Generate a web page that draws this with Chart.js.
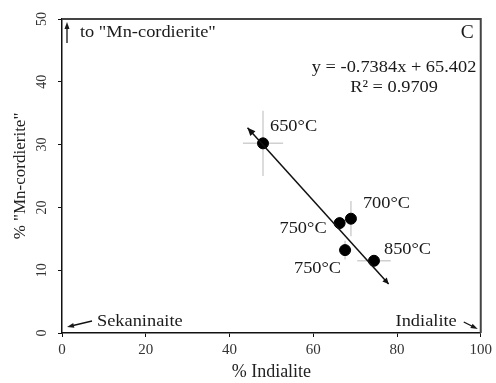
<!DOCTYPE html>
<html>
<head>
<meta charset="utf-8">
<script src="https://cdn.jsdelivr.net/npm/chart.js@4.4.1/dist/chart.umd.min.js"></script>
<style>
  html, body { margin: 0; padding: 0; background: #fff; }
  #wrap { width: 496px; height: 383px; }
</style>
</head>
<body>
<div id="wrap"><canvas id="cordChart"></canvas></div>
<script>
// measured compositions (% indialite, % "Mn-cordierite") and run temperatures
const temperatures = ['650°C', '700°C', '750°C', '750°C', '850°C'];
const indialite = [48.0, 69.0, 66.3, 67.6, 74.5];
const mnCordierite = [30.2, 18.2, 17.5, 13.2, 11.5];
const indialiteErr = [4.8, 0.8, 1.0, 1.5, 4.0];
const mnCordieriteErr = [5.2, 2.8, 1.0, 1.5, 0.8];

// least squares fit, drawn between these x limits
const fitSlope = -0.7384;
const fitIntercept = 65.402;
const fitRange = [44.3, 78.0];

const xTicks = [0, 20, 40, 60, 80, 100];
const yTicks = [0, 10, 20, 30, 40, 50];

const serif = "'Liberation Serif', 'DejaVu Serif', serif";
const textStretch = 1.08;

// label offsets from each point, in pixels: [dx, dy, align]
const labelOffsets = [
    [7, -17, 'left'],
    [12, -15, 'left'],
    [-13, 5, 'right'],
    [-4, 18, 'right'],
    [10, -11, 'left']
];

function arrowHead(ctx, x0, y0, x1, y1, len, half) {
    const a = Math.atan2(y1 - y0, x1 - x0);
    ctx.beginPath();
    ctx.moveTo(x1, y1);
    ctx.lineTo(x1 - len * Math.cos(a) + half * Math.sin(a), y1 - len * Math.sin(a) - half * Math.cos(a));
    ctx.lineTo(x1 - len * Math.cos(a) - half * Math.sin(a), y1 - len * Math.sin(a) + half * Math.cos(a));
    ctx.closePath();
    ctx.fill();
}

// slightly widened text, anchored like fillText
function wideText(ctx, str, x, y) {
    ctx.save();
    ctx.translate(x, y);
    ctx.scale(textStretch, 1);
    ctx.fillText(str, 0, 0);
    ctx.restore();
}

const errorBars = {
    id: 'errorBars',
    beforeDatasetsDraw(chart) {
        const ctx = chart.ctx;
        const xs = chart.scales.x, ys = chart.scales.y;
        ctx.save();
        ctx.strokeStyle = 'rgba(170,170,170,0.55)';
        ctx.lineWidth = 1.5;
        indialite.forEach((v, i) => {
            const px = xs.getPixelForValue(v), py = ys.getPixelForValue(mnCordierite[i]);
            ctx.beginPath();
            ctx.moveTo(xs.getPixelForValue(v - indialiteErr[i]), py);
            ctx.lineTo(xs.getPixelForValue(v + indialiteErr[i]), py);
            ctx.moveTo(px, ys.getPixelForValue(mnCordierite[i] - mnCordieriteErr[i]));
            ctx.lineTo(px, ys.getPixelForValue(mnCordierite[i] + mnCordieriteErr[i]));
            ctx.stroke();
        });
        ctx.restore();
    }
};

const annotations = {
    id: 'annotations',
    afterDraw(chart) {
        const ctx = chart.ctx;
        const xs = chart.scales.x, ys = chart.scales.y;
        const area = chart.chartArea;
        ctx.save();

        // frame on top and right
        ctx.strokeStyle = '#444';
        ctx.lineWidth = 2;
        ctx.beginPath();
        ctx.moveTo(area.left, area.top);
        ctx.lineTo(area.right, area.top);
        ctx.lineTo(area.right, area.bottom);
        ctx.stroke();

        // arrowheads on the fit line
        ctx.fillStyle = '#111';
        const fx0 = xs.getPixelForValue(fitRange[0]), fy0 = ys.getPixelForValue(fitSlope * fitRange[0] + fitIntercept);
        const fx1 = xs.getPixelForValue(fitRange[1]), fy1 = ys.getPixelForValue(fitSlope * fitRange[1] + fitIntercept);
        arrowHead(ctx, fx1, fy1, fx0, fy0, 8, 3.5);
        arrowHead(ctx, fx0, fy0, fx1, fy1, 6, 3);

        // temperature labels
        ctx.fillStyle = '#1a1a1a';
        ctx.font = '17px ' + serif;
        ctx.textBaseline = 'middle';
        temperatures.forEach((t, i) => {
            const o = labelOffsets[i];
            ctx.textAlign = o[2];
            wideText(ctx, t, xs.getPixelForValue(indialite[i]) + o[0], ys.getPixelForValue(mnCordierite[i]) + o[1]);
        });

        // fit equation
        ctx.textAlign = 'center';
        const eqX = xs.getPixelForValue(79.3);
        wideText(ctx, 'y = -0.7384x + 65.402', eqX, ys.getPixelForValue(42.3));
        wideText(ctx, 'R² = 0.9709', eqX, ys.getPixelForValue(39.1));

        // panel letter
        ctx.font = '18px ' + serif;
        ctx.textAlign = 'right';
        wideText(ctx, 'C', area.right - 7, area.top + 14);

        // end-member pointers
        ctx.font = '17px ' + serif;
        ctx.textAlign = 'left';
        wideText(ctx, 'to "Mn-cordierite"', area.left + 18, area.top + 14);
        wideText(ctx, 'Sekaninaite', area.left + 35, area.bottom - 11);
        ctx.textAlign = 'right';
        wideText(ctx, 'Indialite', area.right - 24, area.bottom - 11);

        ctx.strokeStyle = '#111';
        ctx.lineWidth = 1.3;
        const ux = area.left + 5;
        ctx.beginPath();
        ctx.moveTo(ux, area.top + 24);
        ctx.lineTo(ux, area.top + 6);
        ctx.stroke();
        arrowHead(ctx, ux, area.top + 24, ux, area.top + 3, 7, 2.5);

        ctx.beginPath();
        ctx.moveTo(area.left + 30, area.bottom - 12);
        ctx.lineTo(area.left + 9, area.bottom - 7);
        ctx.stroke();
        arrowHead(ctx, area.left + 30, area.bottom - 12, area.left + 5, area.bottom - 6, 7, 2.5);

        ctx.beginPath();
        ctx.moveTo(area.right - 17, area.bottom - 11);
        ctx.lineTo(area.right - 7, area.bottom - 6);
        ctx.stroke();
        arrowHead(ctx, area.right - 17, area.bottom - 11, area.right - 3, area.bottom - 4, 7, 2.5);

        ctx.restore();
    }
};

const ctx = document.getElementById('cordChart').getContext('2d');
const cordChart = new Chart(ctx, {
    type: 'scatter',
    data: {
        datasets: [{
            label: 'fit',
            type: 'line',
            data: fitRange.map(x => ({ x: x, y: fitSlope * x + fitIntercept })),
            borderColor: '#111',
            borderWidth: 1.5,
            pointRadius: 0,
            fill: false
        }, {
            label: 'samples',
            data: indialite.map((x, i) => ({ x: x, y: mnCordierite[i] })),
            backgroundColor: '#000',
            borderColor: '#000',
            pointRadius: 5.5
        }]
    },
    options: {
        responsive: true,
        maintainAspectRatio: false,
        animation: false,
        layout: { padding: { top: 19, right: 15, left: 0, bottom: 0 } },
        plugins: {
            legend: { display: false },
            tooltip: { enabled: false }
        },
        scales: {
            x: {
                type: 'linear',
                min: 0,
                max: 100,
                afterBuildTicks: scale => { scale.ticks = xTicks.map(v => ({ value: v })); },
                afterFit: scale => { scale.height = 50; },
                grid: { drawOnChartArea: false, drawTicks: true, tickLength: 4, color: '#111' },
                border: { color: '#111', width: 1.5 },
                ticks: { color: '#333', font: { family: serif, size: 15 }, padding: 4, maxRotation: 0 },
                title: { display: true, text: '% Indialite', color: '#222', font: { family: serif, size: 18 }, padding: { top: 0, bottom: 0 } }
            },
            y: {
                type: 'linear',
                min: 0,
                max: 50,
                afterBuildTicks: scale => { scale.ticks = yTicks.map(v => ({ value: v })); },
                afterFit: scale => { scale.width = 62; },
                grid: { drawOnChartArea: false, drawTicks: true, tickLength: 4, color: '#111' },
                border: { color: '#111', width: 1.5 },
                ticks: { color: '#333', font: { family: serif, size: 14 }, padding: 9, minRotation: 90, maxRotation: 90, crossAlign: 'center' },
                title: { display: true, text: '% "Mn-cordierite"', color: '#222', font: { family: serif, size: 17 }, padding: { top: 10, bottom: 0 } }
            }
        }
    },
    plugins: [errorBars, annotations]
});
</script>
</body>
</html>
